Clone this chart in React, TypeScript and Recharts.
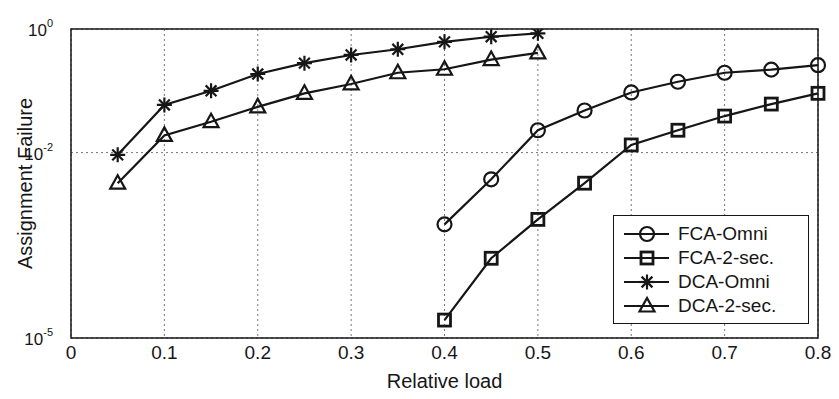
import React from 'react';
import { LineChart, Line, XAxis, YAxis, CartesianGrid, ReferenceArea } from 'recharts';

const dcaLoads = [0.05, 0.1, 0.15, 0.2, 0.25, 0.3, 0.35, 0.4, 0.45, 0.5];
const dcaOmni = [0.0092, 0.059, 0.1, 0.187, 0.28, 0.38, 0.47, 0.62, 0.75, 0.85];
const dca2sec = [0.0032, 0.019, 0.0316, 0.055, 0.091, 0.129, 0.196, 0.223, 0.32, 0.41];

const fcaLoads = [0.4, 0.45, 0.5, 0.55, 0.6, 0.65, 0.7, 0.75, 0.8];
const fcaOmni = [0.00069, 0.0037, 0.023, 0.048, 0.094, 0.14, 0.196, 0.22, 0.26];
const fca2sec = [0.0000195, 0.000195, 0.00083, 0.0032, 0.0133, 0.023, 0.039, 0.061, 0.091];

const xTicks = [0, 0.1, 0.2, 0.3, 0.4, 0.5, 0.6, 0.7, 0.8];
const yTicks = [1e-5, 1e-2, 1];

const FONT = '"Liberation Sans", Arial, sans-serif';
const INK = '#161616';

type Marker = 'circle' | 'square' | 'star' | 'triangle';

const toRows = (xs: number[], ys: number[]) => xs.map((x, i) => ({ x, y: ys[i] }));

const series: { name: string; marker: Marker; data: { x: number; y: number }[] }[] = [
    { name: 'FCA-Omni', marker: 'circle', data: toRows(fcaLoads, fcaOmni) },
    { name: 'FCA-2-sec.', marker: 'square', data: toRows(fcaLoads, fca2sec) },
    { name: 'DCA-Omni', marker: 'star', data: toRows(dcaLoads, dcaOmni) },
    { name: 'DCA-2-sec.', marker: 'triangle', data: toRows(dcaLoads, dca2sec) },
];

const MarkerShape = ({ kind, cx, cy }: { kind: Marker; cx: number; cy: number }) => {
    const common = { fill: 'none', stroke: INK, strokeWidth: 2.2 };
    if (kind === 'circle') return <circle cx={cx} cy={cy} r={7} {...common} />;
    if (kind === 'square') return <rect x={cx - 6} y={cy - 6} width={12} height={12} {...common} strokeWidth={2.8} />;
    if (kind === 'triangle')
        return <polygon points={`${cx},${cy - 8} ${cx - 7.5},${cy + 5.5} ${cx + 7.5},${cy + 5.5}`} {...common} />;
    const r = 7.5;
    const d = r * 0.72;
    return (
        <g stroke={INK} strokeWidth={2.2}>
            <line x1={cx - r} y1={cy} x2={cx + r} y2={cy} />
            <line x1={cx} y1={cy - r} x2={cx} y2={cy + r} />
            <line x1={cx - d} y1={cy - d} x2={cx + d} y2={cy + d} />
            <line x1={cx - d} y1={cy + d} x2={cx + d} y2={cy - d} />
        </g>
    );
};

const PowTick = (props: any) => {
    const { x, y, payload } = props;
    const exp = Math.round(Math.log10(payload.value));
    return (
        <text x={x - 10} y={y} dy={7} textAnchor="end" fontSize={17} fill={INK} fontFamily={FONT}>
            <tspan>10</tspan>
            <tspan dy={-9} fontSize={11}>{exp}</tspan>
        </text>
    );
};

const LegendBox = () => (
    <div style={{
        position: 'absolute',
        left: 613,
        top: 215,
        width: 196,
        height: 109,
        border: `1.5px solid ${INK}`,
        background: 'white',
        fontFamily: FONT,
        fontSize: 19,
        color: INK,
        padding: '6px 0 0 0',
        boxSizing: 'border-box'
    }}>
        {series.map(s => (
            <div key={s.name} style={{ display: 'flex', alignItems: 'center', height: 24 }}>
                <svg width={64} height={24} style={{ flex: 'none' }}>
                    <line x1={10} y1={12} x2={55} y2={12} stroke={INK} strokeWidth={2.2} />
                    <MarkerShape kind={s.marker} cx={33} cy={12} />
                </svg>
                <span>{s.name}</span>
            </div>
        ))}
    </div>
);

export default function App() {
    return (
        <div style={{ position: 'absolute', left: 0, top: 0, width: 839, height: 399, background: 'white' }}>
            <LineChart width={839} height={399} margin={{ top: 29, right: 21, bottom: 11, left: 11 }}>
                <CartesianGrid stroke="#777" strokeDasharray="2 3" />
                <XAxis
                    type="number"
                    dataKey="x"
                    domain={[0, 0.8]}
                    ticks={xTicks}
                    height={50}
                    axisLine={false}
                    tickLine={false}
                    tickMargin={2}
                    tick={{ fontSize: 19, fill: INK, fontFamily: FONT }}
                    label={{ value: 'Relative load', position: 'insideBottom', offset: 0, fontSize: 20, fill: INK, fontFamily: FONT }}
                />
                <YAxis
                    type="number"
                    scale="log"
                    domain={[1e-5, 1]}
                    ticks={yTicks}
                    allowDataOverflow
                    width={60}
                    axisLine={false}
                    tickLine={false}
                    tick={<PowTick />}
                    label={{ value: 'Assignment Failure', angle: -90, position: 'insideLeft', offset: 14, fontSize: 20, fill: INK, fontFamily: FONT, style: { textAnchor: 'middle' } }}
                />
                <ReferenceArea x1={0} x2={0.8} y1={1e-5} y2={1} fill="none" stroke={INK} strokeWidth={1.5} fillOpacity={0} />
                {series.map(s => (
                    <Line
                        key={s.name}
                        data={s.data}
                        dataKey="y"
                        name={s.name}
                        type="linear"
                        stroke={INK}
                        strokeWidth={2.2}
                        isAnimationActive={false}
                        dot={(p: any) => <MarkerShape key={`${s.name}-${p.index}`} kind={s.marker} cx={p.cx} cy={p.cy} />}
                    />
                ))}
            </LineChart>
            <LegendBox />
        </div>
    );
}
